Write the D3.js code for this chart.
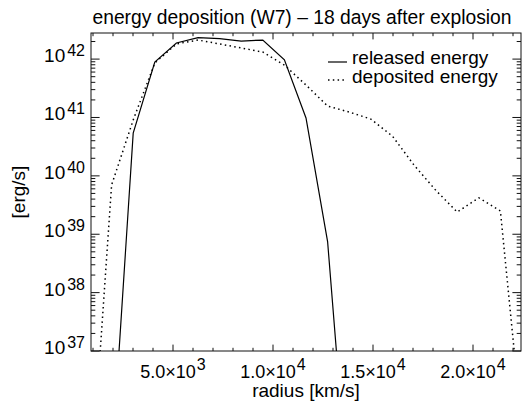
<!DOCTYPE html>
<html>
<head>
<meta charset="utf-8">
<script src="https://cdn.jsdelivr.net/npm/d3@7"></script>
<style>
  body { margin: 0; background: #fff; }
  svg { display: block; }
  text { font-family: "Liberation Sans", Arial, Helvetica, sans-serif; fill: #000; }
</style>
</head>
<body>
<script>
// radius grid [km/s]
const radius = [850, 1930, 3010, 4090, 5170, 6250, 7330, 8410, 9490, 10570, 11650,
                12730, 13810, 14890, 15970, 17050, 18130, 19210, 20290, 21370, 22450];
// released energy [erg/s] (solid)
const released = [1e34, 1.1e35, 5.4e40, 8.9e41, 1.89e42, 2.34e42, 2.25e42, 2.04e42, 2.12e42,
                  9.7e41, 9.8e40, 7.5e38, 1.9e34];
// deposited energy [erg/s] (dotted)
const deposited = [2.8e34, 6.97e39, 9.06e40, 8.57e41, 1.82e42, 2.12e42, 1.82e42, 1.55e42, 1.32e42,
                   7.9e41, 3.6e41, 1.57e41, 1.24e41, 9.4e40, 4.8e40, 1.53e40, 5.7e39, 2.4e39,
                   4.2e39, 2.5e39, 4.5e35];

const xMajor = [5000, 10000, 15000, 20000];
const xLabels = [["5.0×10", "3"], ["1.0×10", "4"], ["1.5×10", "4"], ["2.0×10", "4"]];
const xMinor = [1000, 2000, 3000, 4000, 6000, 7000, 8000, 9000, 11000, 12000, 13000, 14000,
                16000, 17000, 18000, 19000, 21000, 22000];
const yMajor = [1e37, 1e38, 1e39, 1e40, 1e41, 1e42];
const yLabels = ["37", "38", "39", "40", "41", "42"];

const width = 525, height = 405;
const pLeft = 91, pRight = 521, pTop = 33, pBottom = 351;

const x = d3.scaleLinear().domain([900, 22400]).range([pLeft, pRight]);
const y = d3.scaleLog().domain([1e37, 2.8e42]).range([pBottom, pTop]);

// minor log ticks 2..9 per decade
const yMinor = [];
yMajor.forEach(d => {
  for (let k = 2; k <= 9; k++) {
    const v = d * k;
    if (v > y.domain()[0] && v < y.domain()[1]) yMinor.push(v);
  }
});

let svg = d3.select("body").append("svg")
  .attr("width", width)
  .attr("height", height);

svg.append("defs").append("clipPath").attr("id", "clip")
  .append("rect")
  .attr("x", pLeft).attr("y", pTop)
  .attr("width", pRight - pLeft).attr("height", pBottom - pTop);

// ticks (inward on all four sides)
const xt = 6.4, yt = 8.6;
let axes = svg.append("g").attr("stroke", "#111").attr("stroke-width", 1);
function xTicks(vals, len) {
  vals.forEach(v => {
    axes.append("line").attr("x1", x(v)).attr("x2", x(v)).attr("y1", pBottom).attr("y2", pBottom - len);
    axes.append("line").attr("x1", x(v)).attr("x2", x(v)).attr("y1", pTop).attr("y2", pTop + len);
  });
}
function yTicks(vals, len) {
  vals.forEach(v => {
    axes.append("line").attr("y1", y(v)).attr("y2", y(v)).attr("x1", pLeft).attr("x2", pLeft + len);
    axes.append("line").attr("y1", y(v)).attr("y2", y(v)).attr("x1", pRight).attr("x2", pRight - len);
  });
}
xTicks(xMajor, xt);
xTicks(xMinor, xt / 2);
yTicks(yMajor, yt);
yTicks(yMinor, yt / 2);

axes.append("rect")
  .attr("x", pLeft).attr("y", pTop)
  .attr("width", pRight - pLeft).attr("height", pBottom - pTop)
  .attr("fill", "none");

// lines
const line = d3.line().x((d, i) => x(radius[i])).y(d => y(d));
let plot = svg.append("g").attr("clip-path", "url(#clip)");
plot.append("path")
  .attr("d", line(released))
  .attr("fill", "none").attr("stroke", "#000").attr("stroke-width", 1.2);
plot.append("path")
  .attr("d", line(deposited))
  .attr("fill", "none").attr("stroke", "#000").attr("stroke-width", 1.5)
  .attr("stroke-dasharray", "1.5,3.3");

// tick labels
xMajor.forEach((v, i) => {
  let t = svg.append("text")
    .attr("x", x(v)).attr("y", 378)
    .attr("text-anchor", "middle")
    .attr("font-size", 18);
  t.append("tspan").text(xLabels[i][0]);
  t.append("tspan").attr("dx", 1).attr("dy", -8).attr("font-size", 16).text(xLabels[i][1]);
});
yMajor.forEach((v, i) => {
  let t = svg.append("text")
    .attr("x", 85).attr("y", y(v) + 3)
    .attr("text-anchor", "end")
    .attr("font-size", 19);
  t.append("tspan").text("10");
  t.append("tspan").attr("dx", 2).attr("dy", -6).attr("font-size", 16).text(yLabels[i]);
});

// titles
svg.append("text")
  .attr("x", 302).attr("y", 24)
  .attr("text-anchor", "middle").attr("font-size", 19.3)
  .text("energy deposition (W7) – 18 days after explosion");
svg.append("text")
  .attr("x", (pLeft + pRight) / 2).attr("y", 397)
  .attr("text-anchor", "middle").attr("font-size", 19)
  .text("radius [km/s]");
svg.append("text")
  .attr("transform", `translate(25,${(pTop + pBottom) / 2}) rotate(-90)`)
  .attr("text-anchor", "middle").attr("font-size", 19)
  .text("[erg/s]");

// legend
let legend = svg.append("g");
legend.append("line").attr("x1", 328).attr("x2", 347).attr("y1", 62).attr("y2", 62)
  .attr("stroke", "#000").attr("stroke-width", 1.2);
legend.append("text").attr("x", 352).attr("y", 63.5).attr("font-size", 19).text("released energy");
legend.append("line").attr("x1", 328).attr("x2", 347).attr("y1", 80).attr("y2", 80)
  .attr("stroke", "#000").attr("stroke-width", 1.5).attr("stroke-dasharray", "1.5,3.3");
legend.append("text").attr("x", 352).attr("y", 83).attr("font-size", 19).text("deposited energy");
</script>
</body>
</html>
